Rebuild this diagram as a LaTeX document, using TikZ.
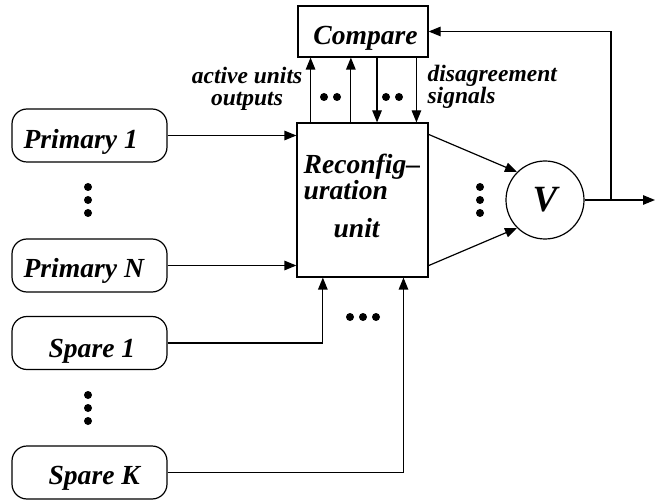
\documentclass[tikz,border=0pt]{standalone}
\usepackage{fontspec}
\setmainfont{Liberation Serif}
\usetikzlibrary{arrows.meta,calc}

\tikzset{
  unitbox/.style={draw, rounded corners=15pt, minimum width=155pt, minimum height=53pt, inner sep=0pt},
  blockbox/.style={draw, inner sep=0pt},
  bigtext/.style={font=\fontsize{27.6}{26}\selectfont\bfseries\itshape, inner sep=0pt},
  smalltext/.style={font=\fontsize{23.5}{22}\selectfont\bfseries\itshape, inner sep=0pt},
  arr/.style={-{Triangle[length=12pt,width=9.5pt]}},
  dotmark/.style={fill=black}
}

\begin{document}
\begin{tikzpicture}[x=1pt, y=-1pt, line width=1.2pt]
\useasboundingbox (0,0) rectangle (655,502);

% functional units
\node[unitbox] (p1) at (89.5,135.5) {};
\node[unitbox] (pn) at (89.5,265.5) {};
\node[unitbox] (s1) at (89.5,343) {};
\node[unitbox] (sk) at (89.5,472.5) {};
\node[bigtext, anchor=base west] (p1t) at (23,149) {Primary 1};
\node[bigtext, anchor=base west] (pnt) at (23,278) {Primary N};
\node[bigtext, anchor=base west] (s1t) at (48,357) {Spare 1};
\node[bigtext, anchor=base west] (skt) at (48,484) {Spare K};

% compare and reconfiguration blocks (multi-line text is anchored on its last line)
\node[blockbox, minimum width=130pt, minimum height=51pt] (cmp) at (363,31.5) {};
\node[bigtext, anchor=base] (cmpt) at (365.5,45) {Compare};
\node[blockbox, minimum width=131pt, minimum height=154pt] (rc) at (362.5,200) {};
\node[bigtext, anchor=base west, align=left] (rct) at (303,238)
  {Reconfig\textendash\\uration\\[12pt]\hspace*{30pt}unit};

% voter
\node[circle, draw, minimum size=78pt, inner sep=0pt,
      font=\fontsize{37}{40}\selectfont\bfseries\itshape] (v) at (545,200) {V};

% side labels
\node[smalltext, anchor=base, align=center] (al) at (247,106) {active units\\outputs};
\node[smalltext, anchor=base west, align=left] (dl) at (427,104) {disagreement\\signals};

% primary inputs
\draw[arr] (p1.east) -- (p1.east -| rc.west);
\draw[arr] (pn.east) -- (pn.east -| rc.west);

% spare inputs from below
\coordinate (b1) at ($(rc.south west)!0.2!(rc.south east)$);
\coordinate (bk) at ($(rc.south west)!0.81!(rc.south east)$);
\draw[arr] (s1.east) -| (b1);
\draw[arr] (sk.east) -| (bk);

% links between reconfiguration unit and comparator
\coordinate (u1) at ($(rc.north west)!0.107!(rc.north east)$);
\coordinate (u2) at ($(rc.north west)!0.412!(rc.north east)$);
\coordinate (d1) at ($(rc.north west)!0.61!(rc.north east)$);
\coordinate (d2) at ($(rc.north west)!0.908!(rc.north east)$);
\draw[arr] (u1) -- (u1 |- cmp.south);
\draw[arr] (u2) -- (u2 |- cmp.south);
\draw[arr] (d1 |- cmp.south) -- (d1);
\draw[arr] (d2 |- cmp.south) -- (d2);

% outputs to voter
\coordinate (r1) at ($(rc.north east)+(0,12)$);
\coordinate (r2) at ($(rc.south east)+(0,-12)$);
\draw[arr] (r1) -- (v.135);
\draw[arr] (r2) -- (v.225);

% voter output and feedback
\coordinate (out) at (655,200);
\coordinate (fb) at (611,200);
\draw[arr] (v.east) -- (out);
\draw[arr] (fb) |- (cmp.east);

% ellipsis dots
\foreach \y in {187,200,213} {
  \fill[dotmark] (88,\y) circle[radius=4pt];
  \fill[dotmark] (480,\y) circle[radius=4pt];
}
\foreach \y in {395,408,421}
  \fill[dotmark] (88,\y) circle[radius=4pt];
\foreach \x in {350,363,376}
  \fill[dotmark] (\x,317) circle[radius=4pt];
\foreach \x in {324,337,386,399}
  \fill[dotmark] (\x,97) circle[radius=4pt];
\end{tikzpicture}
\end{document}
